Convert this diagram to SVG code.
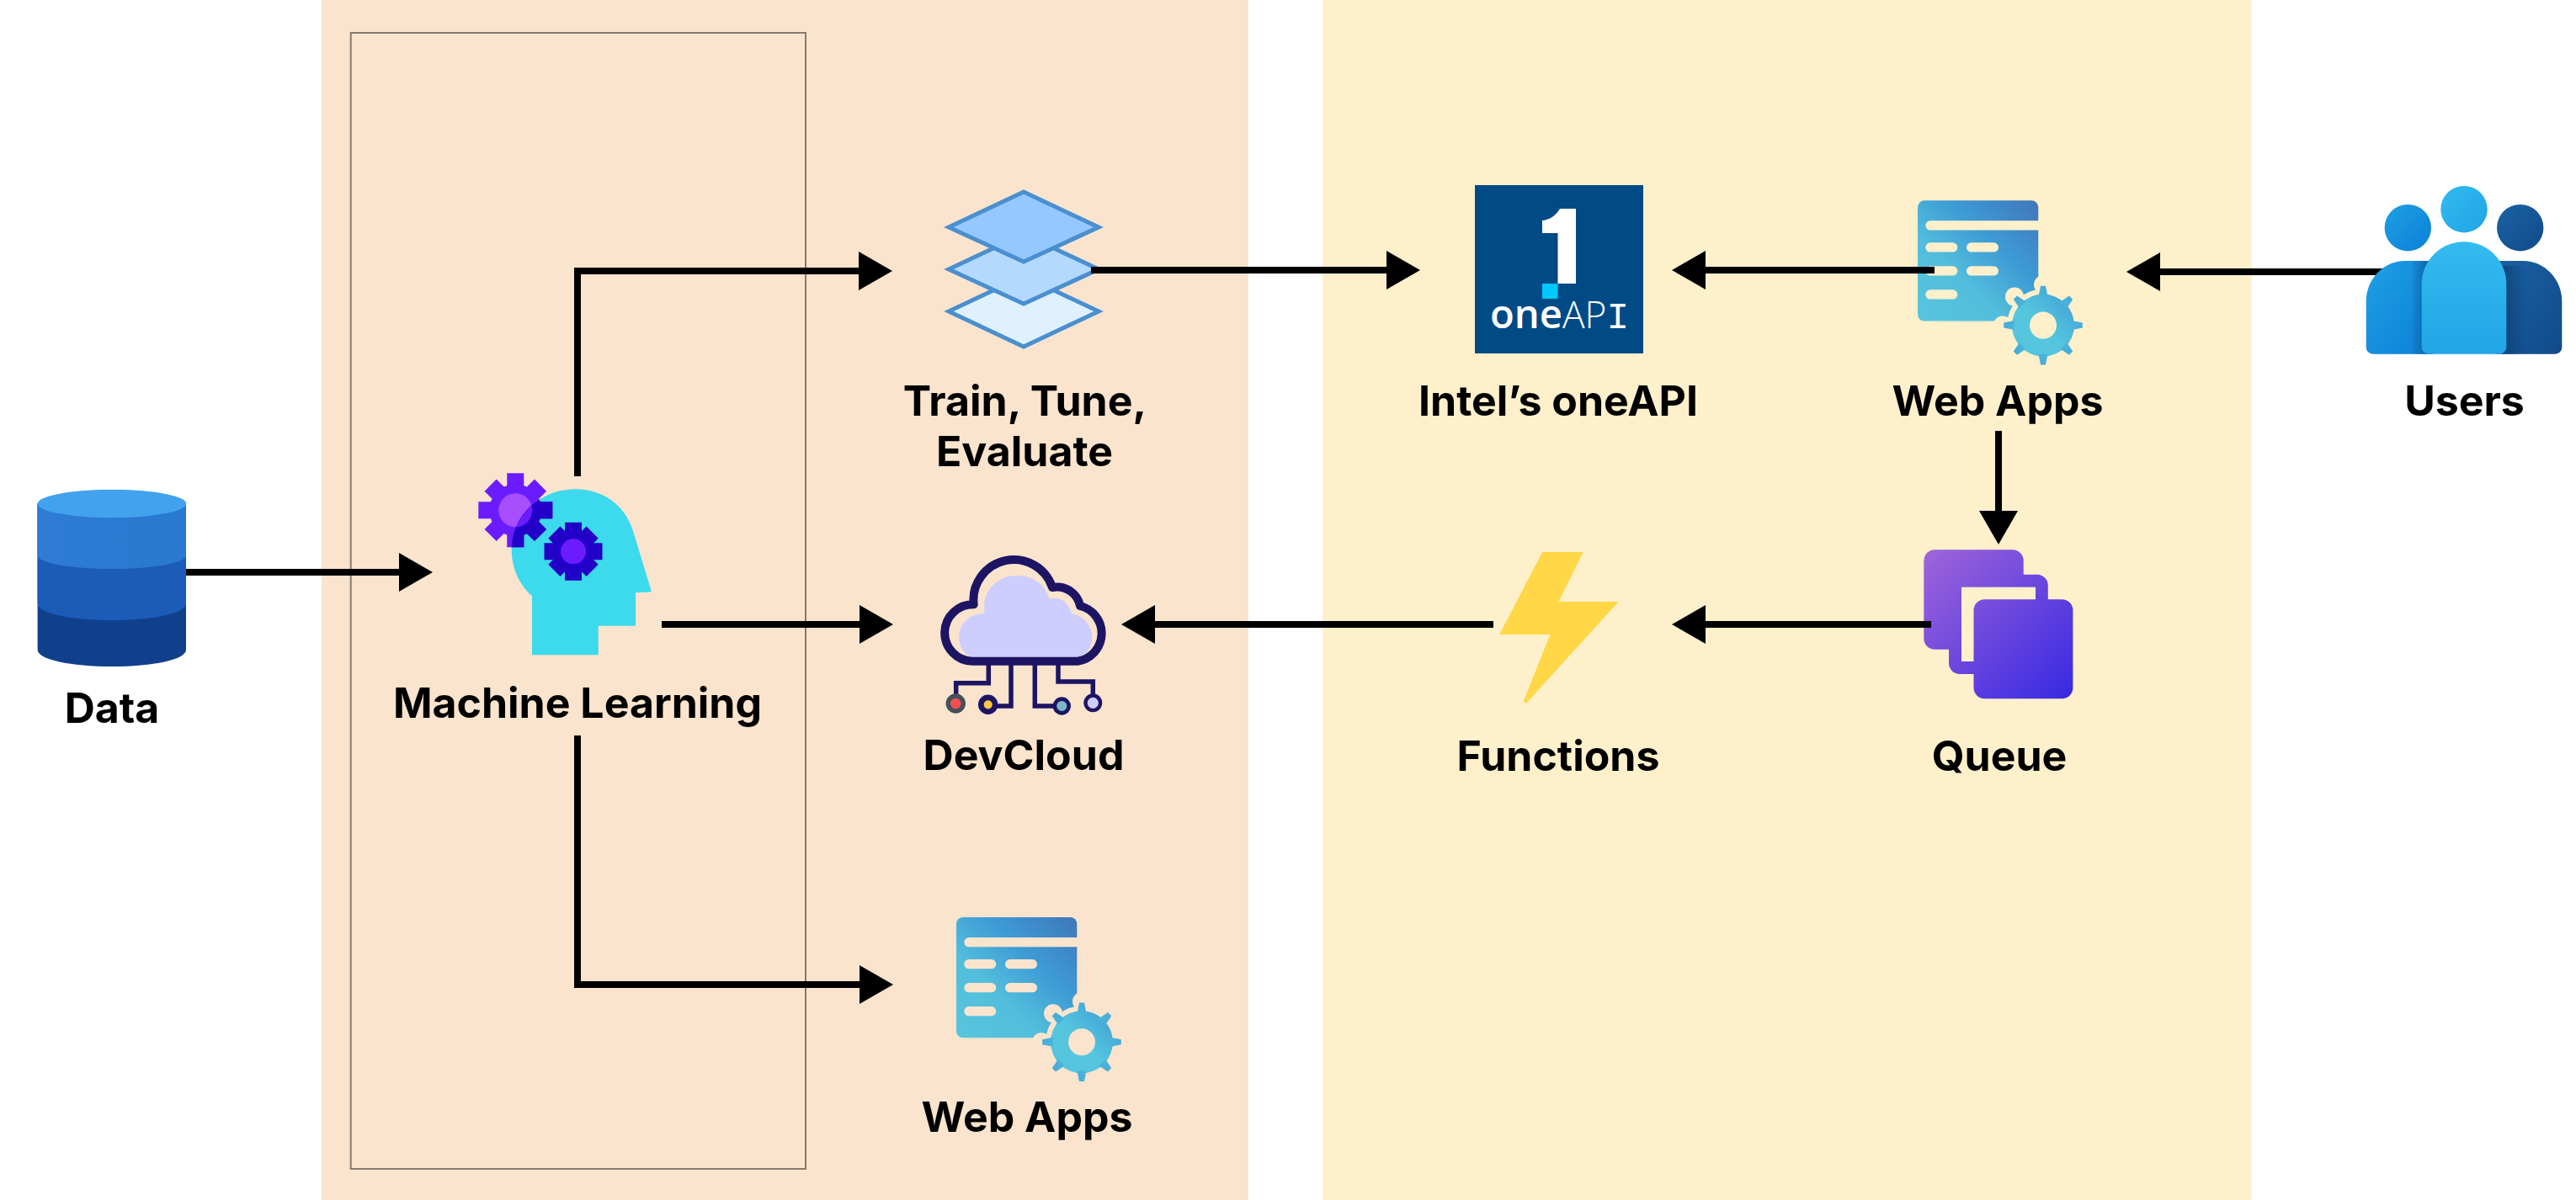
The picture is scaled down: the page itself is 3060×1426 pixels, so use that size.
<svg xmlns="http://www.w3.org/2000/svg" width="3060" height="1426" viewBox="0 0 3060 1426">
<style>
.lbl{font-family:Inter,"Liberation Sans",sans-serif;font-weight:700;font-size:50px;fill:#000;text-anchor:middle}
.conn{fill:none;stroke:#000;stroke-width:8}
.arrow{marker-end:url(#head)}
.lay{stroke:#4a8fd0;stroke-width:5;stroke-linejoin:miter}
.wire{fill:none;stroke:#1d1464;stroke-width:5.5}
</style>
<defs>
<marker id="head" markerUnits="userSpaceOnUse" markerWidth="41" markerHeight="46" refX="0" refY="23" orient="auto"><path d="M0 0L40 23L0 46Z" fill="#000"/></marker>
<linearGradient id="band1" x1="0" x2="1" y1="0" y2="0"><stop offset="0" stop-color="#2f7bd6"/><stop offset="1" stop-color="#2879cf"/></linearGradient>
<linearGradient id="docG" gradientUnits="userSpaceOnUse" x1="1150" y1="1225" x2="1279" y2="1090"><stop offset="0" stop-color="#56c4dc"/><stop offset=".3" stop-color="#52bedc"/><stop offset=".62" stop-color="#3d9ad5"/><stop offset="1" stop-color="#4076ba"/></linearGradient>
<linearGradient id="cogG" gradientUnits="userSpaceOnUse" x1="1250" y1="1275" x2="1322" y2="1203"><stop offset=".5" stop-color="#55c5de"/><stop offset="1" stop-color="#3f9fd5"/></linearGradient>
<linearGradient id="queueG" gradientUnits="userSpaceOnUse" x1="2285" y1="653" x2="2462" y2="830"><stop offset="0" stop-color="#a065da"/><stop offset="1" stop-color="#3729e2"/></linearGradient>
<linearGradient id="uL" x1="0" y1="0" x2="1" y2="1"><stop offset="0" stop-color="#1f9fe3"/><stop offset="1" stop-color="#0a80d8"/></linearGradient>
<linearGradient id="uC" x1="0" y1="0" x2="0" y2="1"><stop offset="0" stop-color="#33bbef"/><stop offset="1" stop-color="#22a5e6"/></linearGradient>
<linearGradient id="uCc" x1="0" y1="0" x2="1" y2="1"><stop offset="0" stop-color="#33bbef"/><stop offset="1" stop-color="#1fa5e6"/></linearGradient>
<linearGradient id="uR" x1="0" y1="0" x2="1" y2="1"><stop offset="0" stop-color="#1a62a3"/><stop offset="1" stop-color="#114a8b"/></linearGradient>
<linearGradient id="shL" gradientUnits="userSpaceOnUse" x1="2862" y1="0" x2="2882" y2="0"><stop offset="0" stop-color="#0a5f9f" stop-opacity="0"/><stop offset="1" stop-color="#0a5f9f" stop-opacity=".75"/></linearGradient>
<linearGradient id="shR" gradientUnits="userSpaceOnUse" x1="2972" y1="0" x2="3002" y2="0"><stop offset="0" stop-color="#0d3f72" stop-opacity=".8"/><stop offset="1" stop-color="#0d3f72" stop-opacity="0"/></linearGradient>
<clipPath id="headClip"><path d="M632 778.3H710.7V743.7H755V704.3L774 703.3L751.7 630C742 600 716 581.3 683.3 581.3C640 581.3 607.7 615 607.7 653C607.7 675 617 695 632 708.3Z"/></clipPath>
<g id="cogA"><circle r="31"/><rect x="-10" y="-44" width="20" height="88"/><rect x="-44" y="-10" width="88" height="20"/><rect x="-10" y="-42" width="20" height="84" transform="rotate(45)"/><rect x="-10" y="-42" width="20" height="84" transform="rotate(-45)"/></g>
<g id="cogB"><circle r="26"/><rect x="-10" y="-34.5" width="20" height="69"/><rect x="-34.5" y="-10" width="69" height="20"/><rect x="-10" y="-32" width="20" height="64" transform="rotate(45)"/><rect x="-10" y="-32" width="20" height="64" transform="rotate(-45)"/></g>
<path id="tooth" d="M1282 1191.5H1288L1290.5 1204H1279.5Z"/>
<mask id="docMask" maskUnits="userSpaceOnUse" x="1100" y="1060" width="260" height="260">
<rect x="1100" y="1060" width="260" height="260" fill="#fff"/>
<g fill="#000">
<rect x="1145.3" y="1114" width="150" height="11.3" rx="5.7"/>
<rect x="1145.3" y="1140" width="38" height="11.3" rx="5.7"/><rect x="1194" y="1140" width="38" height="11.3" rx="5.7"/>
<rect x="1145.3" y="1168" width="38" height="11.3" rx="5.7"/><rect x="1194" y="1168" width="38" height="11.3" rx="5.7"/>
<rect x="1145.3" y="1196" width="38" height="11.3" rx="5.7"/>
<circle cx="1285" cy="1238.3" r="43"/>
<circle cx="1285" cy="1190" r="11"/><circle cx="1251" cy="1204.3" r="11"/><circle cx="1237" cy="1238.3" r="11"/><circle cx="1319" cy="1204.3" r="11"/>
</g></mask>
<g id="webIcon">
<rect x="1136" y="1090" width="143.3" height="143.3" rx="8" fill="url(#docG)" mask="url(#docMask)"/>
<g fill="url(#cogG)">
<path fill-rule="evenodd" d="M1248 1238.3a37 37 0 1 0 74 0a37 37 0 1 0 -74 0ZM1269 1238.3a16 16 0 1 0 32 0a16 16 0 1 0 -32 0Z"/>
<use href="#tooth"/>
<use href="#tooth" transform="rotate(45 1285 1238.3)"/>
<use href="#tooth" transform="rotate(90 1285 1238.3)"/>
<use href="#tooth" transform="rotate(135 1285 1238.3)"/>
<use href="#tooth" transform="rotate(180 1285 1238.3)"/>
<use href="#tooth" transform="rotate(225 1285 1238.3)"/>
<use href="#tooth" transform="rotate(270 1285 1238.3)"/>
<use href="#tooth" transform="rotate(315 1285 1238.3)"/>
</g>
</g>
</defs>

<g id="panels">
<rect x="382" y="0" width="1101" height="1426" fill="#fae4cd"/>
<rect x="1571" y="0" width="1104" height="1426" fill="#fff0cc"/>
<rect x="416.7" y="39" width="540.3" height="1350" fill="none" stroke="#857a70" stroke-width="2"/>
</g>

<g id="node-data">
<path d="M44.6 598.5V772C44.6 784 84 792 133 792S221 784 221 772V598.5Z" fill="#10408c"/>
<path d="M44.6 598.5V717C44.6 729 84 737 133 737S221 729 221 717V598.5Z" fill="#1b5cb8"/>
<path d="M44.6 598.5V660C44.6 669 84 676 133 676S221 669 221 660V598.5Z" fill="url(#band1)"/>
<ellipse cx="133" cy="598.5" rx="88.2" ry="16.7" fill="#42a2ee"/>
<text class="lbl" x="133" y="859">Data</text>
</g>

<g id="node-ml">
<path d="M632 778.3H710.7V743.7H755V704.3L774 703.3L751.7 630C742 600 716 581.3 683.3 581.3C640 581.3 607.7 615 607.7 653C607.7 675 617 695 632 708.3Z" fill="#3dd9ec"/>
<use href="#cogA" x="612.3" y="606.3" fill="#6b1cff"/>
<circle cx="612.3" cy="606.3" r="20" fill="#a74fff"/>
<g clip-path="url(#headClip)">
<use href="#cogA" x="612.3" y="606.3" fill="#2200c8"/>
<circle cx="612.3" cy="606.3" r="20" fill="#6b1cff"/>
</g>
<use href="#cogB" x="681" y="655.3" fill="#2200c8"/>
<circle cx="681" cy="655.3" r="15" fill="#6b1cff"/>
<text class="lbl" x="686" y="853">Machine Learning</text>
</g>

<g id="node-train">
<path class="lay" d="M1216 370L1305 328L1216 286L1127 328Z" transform="translate(0 42)" fill="#dff0ff"/>
<path class="lay" d="M1216 278L1305 320L1216 361L1127 320Z" fill="#b3d9ff"/>
<path class="lay" d="M1216 228L1305 270L1216 311L1127 270Z" fill="#94c8ff"/>
<text class="lbl" x="1217.5" y="494">Train, Tune,</text>
<text class="lbl" x="1217" y="554">Evaluate</text>
</g>

<g id="node-devcloud">
<path d="M1155 780.7C1147 780 1139.3 770 1139.3 756C1139.3 741 1152 729 1169.3 729V716.7C1172 697 1188 684 1208.3 684C1227 684 1242 695 1246.7 711.7C1259 708 1270 716 1272.7 729C1287 732 1297.3 743 1297.3 756.7C1297.3 768 1292 776 1283.3 780.7Z" fill="#cdcdff"/>
<path d="M1155 785.7A33.5 33.5 0 0 1 1156.7 718.3A48 48 0 0 1 1250 698A28 28 0 0 1 1283 720A33.5 33.5 0 0 1 1280 785.7Z" fill="none" stroke="#1d1464" stroke-width="10" stroke-linejoin="round"/>
<path class="wire" d="M1174.3 788V811.7H1135.7V826"/>
<path class="wire" d="M1201 788V839H1183"/>
<path class="wire" d="M1229.3 788V839H1252"/>
<path class="wire" d="M1257 788V810H1298.3V826"/>
<circle cx="1135.3" cy="836" r="9" fill="#f44f4f" stroke="#44505c" stroke-width="5.4"/>
<circle cx="1173.7" cy="837.3" r="8.4" fill="#ffc83d" stroke="#1d1464" stroke-width="6.6"/>
<circle cx="1261.3" cy="839" r="8.4" fill="#7bb8c6" stroke="#1d1464" stroke-width="4.6"/>
<circle cx="1298.3" cy="835.3" r="8.8" fill="#cdcdff" stroke="#1d1464" stroke-width="4.4"/>
<text class="lbl" x="1216" y="915">DevCloud</text>
</g>

<g id="node-webapps-lower">
<use href="#webIcon"/>
<text class="lbl" x="1220" y="1345">Web Apps</text>
</g>

<g id="node-oneapi">
<rect x="1752" y="220" width="200" height="200" fill="#004a86"/>
<path d="M1872 248V337H1850.5V277H1832V262C1842 261 1848 256 1853 248Z" fill="#fff"/>
<rect x="1832" y="337" width="18.5" height="18" fill="#00c7fd"/>
<text x="1770" y="390" fill="#fff" font-size="44" font-family="'Open Sans','Noto Sans',sans-serif" textLength="165" lengthAdjust="spacingAndGlyphs"><tspan font-weight="600" font-size="47">one</tspan><tspan font-weight="300">AP</tspan><tspan font-weight="300" font-family="'Liberation Mono',monospace">I</tspan></text>
<text class="lbl" x="1851" y="494">Intel’s oneAPI</text>
</g>

<g id="node-webapps-upper">
<use href="#webIcon" transform="translate(1142 -851.7)"/>
<text class="lbl" x="2373" y="494">Web Apps</text>
</g>

<g id="node-functions">
<path d="M1832.2 656H1880.7L1851.6 715H1922.6L1812.9 836L1809.8 833.3L1841.4 754H1781.2Z" fill="#ffd747"/>
<text class="lbl" x="1851" y="915.5">Functions</text>
</g>

<g id="node-queue">
<rect x="2285.3" y="653.3" width="118.4" height="118.4" rx="13" fill="url(#queueG)"/>
<rect x="2315" y="682.7" width="117.8" height="118.3" rx="13" fill="url(#queueG)"/>
<rect x="2330" y="697.7" width="88" height="88.3" fill="#fff0cc"/>
<rect x="2344.5" y="712.3" width="117.9" height="118" rx="13" fill="url(#queueG)"/>
<text class="lbl" x="2375" y="915.5">Queue</text>
</g>

<g id="connectors">
<path class="conn arrow" d="M221 680H474"/>
<path class="conn arrow" d="M686 566V322H1020"/>
<path class="conn arrow" d="M786 742H1021"/>
<path class="conn arrow" d="M686 874V1170H1021"/>
<path class="conn arrow" d="M1296 321H1647"/>
<path class="conn arrow" d="M2298 321H2026"/>
<path class="conn arrow" d="M2830 323H2566"/>
<path class="conn arrow" d="M2374 512V607"/>
<path class="conn arrow" d="M2294 742H2026"/>
<path class="conn arrow" d="M1774 742H1372"/>
</g>

<g id="node-users">
<circle cx="2860.3" cy="270.7" r="27.7" fill="url(#uL)"/>
<circle cx="2993.7" cy="270.7" r="27.7" fill="url(#uR)"/>
<circle cx="2927" cy="248.7" r="27.7" fill="url(#uCc)"/>
<path d="M2810.7 358C2810.7 332 2831 310 2857 310H2890V420.7H2818.7A8 8 0 0 1 2810.7 412.7Z" fill="url(#uL)"/>
<path d="M2866 310H2890V420.7H2866Z" fill="url(#shL)"/>
<path d="M3043.3 358C3043.3 332 3023 310 2997 310H2964V420.7H3035.3A8 8 0 0 0 3043.3 412.7Z" fill="url(#uR)"/>
<path d="M2972 316H3002V420.7H2972Z" fill="url(#shR)"/>
<path d="M2876.7 337.5A50.3 50.3 0 0 1 2977.3 337.5V412.7A8 8 0 0 1 2969.3 420.7H2884.7A8 8 0 0 1 2876.7 412.7Z" fill="url(#uC)"/>
<text class="lbl" x="2927.5" y="494">Users</text>
</g>
</svg>
